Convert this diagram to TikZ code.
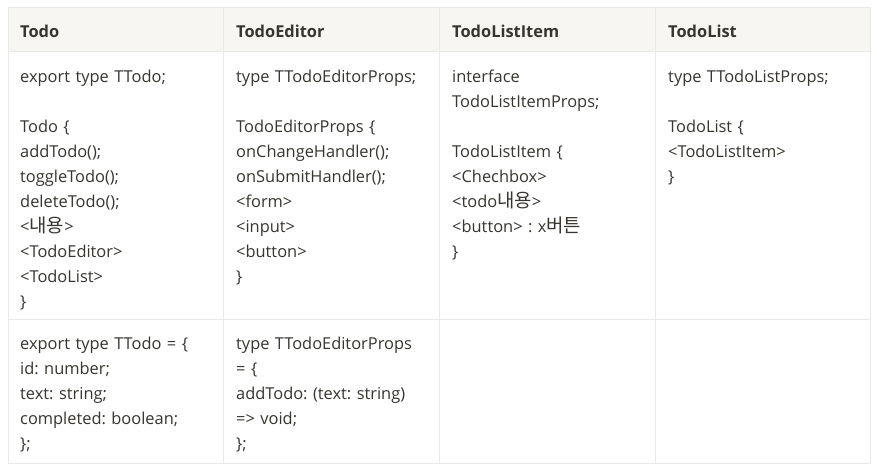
\documentclass[tikz,border=0pt]{standalone}
\usepackage{fontspec}
\setmainfont{Open Sans}
\newfontfamily\krf[Scale=1.15]{Noto Sans CJK KR}
\definecolor{hdrfill}{RGB}{247,246,243}
\definecolor{gridc}{RGB}{233,233,231}
\definecolor{txt}{RGB}{55,53,47}
\frenchspacing
\begin{document}
\begin{tikzpicture}[x=1pt,y=-1pt,
  cell/.style={inner sep=0pt,anchor=base west,text width=200pt,align=left,text=txt,font=\fontsize{16.4}{25}\selectfont\frenchspacing},
  head/.style={inner sep=0pt,anchor=base west,text=txt,font=\fontsize{16.4}{25}\selectfont\bfseries},
  grid/.style={draw=gridc,line width=1pt}]
\useasboundingbox (0,0) rectangle (877,471);
\fill[white] (0,0) rectangle (877,471);
\fill[hdrfill] (8,7) rectangle (870,51);
\draw[grid] (8,7) rectangle (870,463);
\draw[grid] (8,51) -- (870,51);
\draw[grid] (8,319) -- (870,319);
\foreach \cx in {223.5,439,655} {\draw[grid] (\cx,7) -- (\cx,463);}
% header
\node[head] (h1) at (20,37) {Todo};
\node[head] (h2) at (236,37) {TodoEditor};
\node[head] (h3) at (452,37) {TodoListItem};
\node[head] (h4) at (668,37) {TodoList};
% row 1
\node[cell] (a1) at (20,82) {export type TTodo;\\[25pt]
Todo \{\\addTodo();\\toggleTodo();\\deleteTodo();\\<{\krf 내용}>\\<TodoEditor>\\<TodoList>\\\}};
\node[cell] (b1) at (236,82) {type TTodoEditorProps;\\[25pt]
TodoEditorProps \{\\onChangeHandler();\\onSubmitHandler();\\<form>\\<input>\\<button>\\\}};
\node[cell] (c1) at (452,82) {interface\\TodoListItemProps;\\[25pt]
TodoListItem \{\\<Chechbox>\\<todo{\krf 내용}>\\<button> : x{\krf 버튼}\\\}};
\node[cell] (d1) at (668,82) {type TTodoListProps;\\[25pt]
TodoList \{\\<TodoListItem>\\\}};
% row 2
\node[cell] (a2) at (20,349) {export type TTodo = \{\\id: number;\\text: string;\\completed: boolean;\\\};};
\node[cell] (b2) at (236,349) {type TTodoEditorProps\\= \{\\addTodo: (text: string)\\=> void;\\\};};
\end{tikzpicture}
\end{document}
